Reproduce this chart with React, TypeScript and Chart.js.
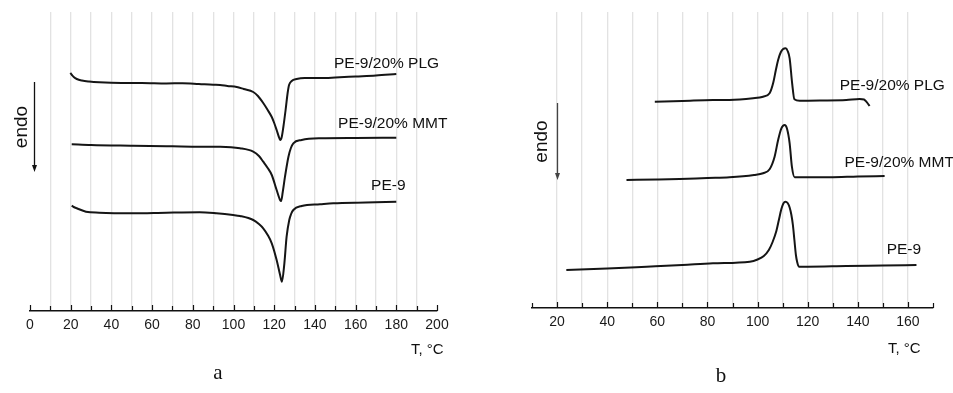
import React, { useEffect, useRef } from "react";
import { Chart, registerables } from "chart.js";
Chart.register(...registerables);

// ---------- Panel a: heating (endo down) ----------
const aPLG_T = [19.8, 20.6, 21.5, 23, 25.5, 29, 34, 45, 55, 67, 75, 83, 90, 93.4, 97, 101.6, 105, 109.7, 112, 114.6, 116.8, 118.8, 120, 121.2, 122.5, 123, 123.7, 124.5, 125.6, 126.6, 127.3, 128.6, 131, 135, 142.5, 150, 160, 170, 180];
const aPLG_V = [23.8, 23.6, 23.4, 23.2, 23.05, 22.95, 22.87, 22.8, 22.8, 22.75, 22.78, 22.7, 22.62, 22.6, 22.5, 22.4, 22.2, 21.9, 21.5, 20.8, 20.1, 19.4, 18.8, 18.1, 17.3, 17.1, 17.4, 18.4, 20.1, 21.8, 22.6, 23.0, 23.2, 23.3, 23.3, 23.35, 23.45, 23.55, 23.7];

const aMMT_T = [20.5, 30, 50.6, 70, 83.4, 93.4, 103.2, 109.7, 112.5, 114.6, 116.8, 118.8, 121.2, 122.9, 123.4, 124.2, 125.3, 127, 128.2, 129.4, 133.5, 142.5, 160, 180];
const aMMT_V = [16.67, 16.6, 16.53, 16.47, 16.43, 16.42, 16.27, 15.93, 15.5, 14.93, 14.3, 13.6, 12.1, 11.1, 11.0, 11.9, 13.43, 15.43, 16.3, 16.77, 17.1, 17.27, 17.3, 17.33];

const aPE9_T = [20.5, 21.5, 23, 27.5, 34, 50.6, 67, 83.4, 91.6, 99.8, 103.2, 109.7, 112.5, 114.6, 116.8, 118.8, 121.2, 122.9, 123.8, 125, 126.1, 127.4, 128.3, 129.4, 133.5, 142.5, 149, 165, 180];
const aPE9_V = [10.53, 10.4, 10.27, 9.93, 9.83, 9.77, 9.83, 9.87, 9.77, 9.6, 9.5, 9.1, 8.7, 8.27, 7.6, 6.77, 5.1, 3.6, 2.93, 4.77, 7.43, 9.1, 9.7, 10.1, 10.5, 10.67, 10.77, 10.85, 10.93];

// ---------- Panel b: cooling (exo up) ----------
const bPLG_T = [59, 70, 82.2, 88.8, 98.2, 102.2, 104.8, 106.2, 107.3, 108.2, 109.3, 110.2, 111.2, 112, 112.8, 113.8, 114.7, 116.8, 125, 135.4, 140.7, 142.5, 143.4, 144.7];
const bPLG_V = [20.63, 20.7, 20.8, 20.8, 20.97, 21.13, 21.47, 22.47, 23.8, 24.8, 25.6, 25.9, 25.97, 25.7, 24.97, 22.47, 20.87, 20.73, 20.75, 20.8, 20.9, 20.85, 20.63, 20.2];

const bMMT_T = [47.7, 60, 68.9, 80, 88.8, 98.6, 102.2, 104.8, 106.8, 108.2, 109.5, 110.8, 111.7, 112.8, 113.7, 114.8, 120, 128.8, 140, 150.7];
const bMMT_V = [12.8, 12.85, 12.9, 13.0, 13.07, 13.3, 13.47, 13.87, 15.13, 16.8, 17.97, 18.3, 17.97, 16.47, 14.13, 13.07, 13.07, 13.07, 13.15, 13.2];

const bPE9_T = [23.7, 40, 55.7, 70, 82.2, 96.9, 100, 102.5, 104.5, 106, 107.5, 108.5, 109.5, 110.3, 111.1, 112, 112.8, 113.5, 114.1, 114.7, 115.3, 115.8, 116.5, 120, 135.4, 150, 163.4];
const bPE9_V = [3.8, 3.95, 4.13, 4.3, 4.47, 4.63, 4.85, 5.2, 5.8, 6.6, 7.7, 8.8, 9.9, 10.45, 10.63, 10.5, 10.05, 9.3, 8.3, 6.8, 5.3, 4.6, 4.13, 4.13, 4.2, 4.25, 4.3];

// Curve labels
const SERIES_NAMES = ["PE-9/20% PLG", "PE-9/20% MMT", "PE-9"];
const aLabelT = [149.4, 151.4, 167.6];
const aLabelV = [24.77, 18.7, 12.53];
const bLabelT = [132.8, 134.7, 151.5];
const bLabelV = [22.23, 14.5, 5.8];

const AXIS_TITLE = "T, °C";
const ENDO = "endo";

const SANS = '"Liberation Sans", Arial, Helvetica, sans-serif';
const SERIF = '"Liberation Serif", "Times New Roman", serif';

function pts(t: number[], v: number[]) {
  return t.map((x, i) => ({ x, y: v[i] }));
}

type PanelCfg = {
  series: { t: number[]; v: number[] }[];
  labelT: number[];
  labelV: number[];
  xMin: number;
  xMax: number;
  yMax: number;
  padLeft: number;
  padRight: number;
  axisHeight: number;
  arrow: { t: number; v0: number; v1: number; textT: number; color: string };
  titlePos: [number, number];
  letter: string;
  letterPos: [number, number];
  isLabeled: (v: number) => boolean;
};

function makeDecor(cfg: PanelCfg) {
  return {
    id: "decor",
    afterDraw(chart: any) {
      const ctx = chart.ctx as CanvasRenderingContext2D;
      const xs = chart.scales.x;
      const ys = chart.scales.y;
      const area = chart.chartArea;
      ctx.save();
      // inward ticks
      ctx.strokeStyle = "#111";
      ctx.lineWidth = 1.2;
      for (let t = cfg.xMin; t <= cfg.xMax + 1e-6; t += 10) {
        const px = Math.round(xs.getPixelForValue(t)) + 0.5;
        const len = cfg.isLabeled(t) ? 6 : 5;
        ctx.beginPath();
        ctx.moveTo(px, area.bottom);
        ctx.lineTo(px, area.bottom - len);
        ctx.stroke();
      }
      // curve labels
      ctx.fillStyle = "#111";
      ctx.font = `15.5px ${SANS}`;
      ctx.textBaseline = "middle";
      ctx.textAlign = "left";
      SERIES_NAMES.forEach((name, i) => {
        ctx.fillText(name, xs.getPixelForValue(cfg.labelT[i]), ys.getPixelForValue(cfg.labelV[i]));
      });
      // endo arrow
      const ax = Math.round(xs.getPixelForValue(cfg.arrow.t)) + 0.5;
      const ay0 = ys.getPixelForValue(cfg.arrow.v0);
      const ay1 = ys.getPixelForValue(cfg.arrow.v1);
      ctx.strokeStyle = cfg.arrow.color;
      ctx.fillStyle = cfg.arrow.color;
      ctx.lineWidth = 1.3;
      ctx.beginPath();
      ctx.moveTo(ax, ay0);
      ctx.lineTo(ax, ay1 - 6);
      ctx.stroke();
      ctx.beginPath();
      ctx.moveTo(ax - 2.5, ay1 - 7);
      ctx.lineTo(ax + 2.5, ay1 - 7);
      ctx.lineTo(ax, ay1);
      ctx.closePath();
      ctx.fill();
      const tx = xs.getPixelForValue(cfg.arrow.textT);
      const ty = (ay0 + ay1) / 2;
      ctx.save();
      ctx.translate(tx, ty);
      ctx.rotate(-Math.PI / 2);
      ctx.fillStyle = "#111";
      ctx.font = `19px ${SANS}`;
      ctx.textAlign = "center";
      ctx.textBaseline = "middle";
      ctx.fillText(ENDO, 0, 0);
      ctx.restore();
      // axis title
      ctx.fillStyle = "#111";
      ctx.font = `15px ${SANS}`;
      ctx.textAlign = "left";
      ctx.textBaseline = "middle";
      ctx.fillText(AXIS_TITLE, cfg.titlePos[0], cfg.titlePos[1]);
      // panel letter
      ctx.font = `21px ${SERIF}`;
      ctx.textAlign = "center";
      ctx.fillText(cfg.letter, cfg.letterPos[0], cfg.letterPos[1]);
      ctx.restore();
    },
  };
}

function Panel({ cfg, width, height }: { cfg: PanelCfg; width: number; height: number }) {
  const ref = useRef<HTMLCanvasElement | null>(null);
  useEffect(() => {
    if (!ref.current) return;
    const chart = new Chart(ref.current, {
      type: "line",
      data: {
        datasets: cfg.series.map((s) => ({
          data: pts(s.t, s.v),
          borderColor: "#151515",
          borderWidth: 2,
          pointRadius: 0,
          fill: false,
          cubicInterpolationMode: "monotone" as const,
        })),
      },
      options: {
        animation: false,
        responsive: false,
        devicePixelRatio: 1,
        parsing: false as any,
        layout: { padding: { left: cfg.padLeft, right: cfg.padRight, top: 12, bottom: 0 } },
        plugins: { legend: { display: false }, tooltip: { enabled: false } },
        scales: {
          x: {
            type: "linear",
            min: cfg.xMin,
            max: cfg.xMax,
            afterFit: (scale: any) => {
              scale.height = cfg.axisHeight;
            },
            ticks: {
              stepSize: 10,
              autoSkip: false,
              maxRotation: 0,
              padding: 6,
              color: "#1a1a1a",
              font: { family: SANS, size: 14 },
              callback: (v: any) => (cfg.isLabeled(Number(v)) ? String(v) : ""),
            },
            grid: {
              drawTicks: false,
              lineWidth: 1.3,
              color: (c: any) => {
                const v = c.tick ? c.tick.value : NaN;
                return v === cfg.xMin || v === cfg.xMax ? "rgba(0,0,0,0)" : "#e2e2e2";
              },
            },
            border: { display: true, color: "#111", width: 1.5 },
          },
          y: {
            type: "linear",
            display: false,
            min: 0,
            max: cfg.yMax,
          },
        },
      },
      plugins: [makeDecor(cfg)],
    });
    return () => chart.destroy();
  }, []);
  return <canvas ref={ref} width={width} height={height} style={{ width, height, display: "block" }} />;
}

const cfgA: PanelCfg = {
  series: [
    { t: aPLG_T, v: aPLG_V },
    { t: aMMT_T, v: aMMT_V },
    { t: aPE9_T, v: aPE9_V },
  ],
  labelT: aLabelT,
  labelV: aLabelV,
  xMin: 0,
  xMax: 200,
  yMax: 29.9,
  padLeft: 30,
  padRight: 43,
  axisHeight: 82,
  arrow: { t: 2, v0: 22.9, v1: 13.9, textT: -3.9, color: "#111" },
  titlePos: [411, 350],
  letter: "a",
  letterPos: [218, 373],
  isLabeled: (v) => v % 20 === 0,
};

const cfgB: PanelCfg = {
  series: [
    { t: bPLG_T, v: bPLG_V },
    { t: bMMT_T, v: bMMT_V },
    { t: bPE9_T, v: bPE9_V },
  ],
  labelT: bLabelT,
  labelV: bLabelV,
  xMin: 10,
  xMax: 170,
  yMax: 29.6,
  padLeft: 52,
  padRight: 20,
  axisHeight: 85,
  arrow: { t: 20, v0: 20.5, v1: 12.8, textT: 13.8, color: "#444" },
  titlePos: [408, 349],
  letter: "b",
  letterPos: [241, 376],
  isLabeled: (v) => v % 20 === 0 && v >= 20 && v <= 160,
};

export default function App() {
  return (
    <div style={{ position: "fixed", left: 0, top: 0, width: 953, height: 393, background: "#fff" }}>
      <div style={{ position: "absolute", left: 0, top: 0 }}>
        <Panel cfg={cfgA} width={480} height={393} />
      </div>
      <div style={{ position: "absolute", left: 480, top: 0 }}>
        <Panel cfg={cfgB} width={473} height={393} />
      </div>
    </div>
  );
}
